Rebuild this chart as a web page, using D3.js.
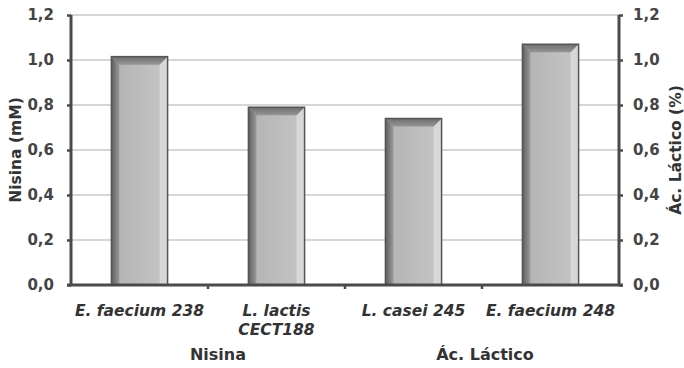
<!DOCTYPE html>
<html><head><meta charset="utf-8">
<script src="https://cdn.jsdelivr.net/npm/d3@7"></script>
<style>body{margin:0;background:#fff}svg{display:block}</style>
</head><body>
<svg id="c" width="684" height="368"></svg>
<script>
const categories = [["E. faecium 238"], ["L. lactis", "CECT188"], ["L. casei 245"], ["E. faecium 248"]];
const values = [1.015, 0.79, 0.74, 1.07];
const groups = ["Nisina", "Ác. Láctico"];
const groupSpans = [[0, 1], [2, 3]];
const yTicks = [0, 0.2, 0.4, 0.6, 0.8, 1.0, 1.2];
const leftTitle = "Nisina (mM)";
const rightTitle = "Ác. Láctico (%)";

const svg = d3.select("#c");
const L = 71, R = 619, T = 15, B = 285;
const x = d3.scaleBand().domain(d3.range(categories.length)).range([L, R]).paddingInner(0.59).paddingOuter(0.295);
const xb = d3.scaleBand().domain(d3.range(categories.length)).range([L, R]);
const y = d3.scaleLinear().domain([0, 1.2]).range([B, T]);
const fmt = d => d3.format(".1f")(d).replace(".", ",");
const font = "'DejaVu Sans', Verdana, sans-serif";

// gridlines
svg.append("g").selectAll("line").data(yTicks.filter(d => d > 0)).join("line")
  .attr("x1", L).attr("x2", R).attr("y1", d => y(d)).attr("y2", d => y(d))
  .attr("stroke", "#c8c8c8").attr("stroke-width", 1.6);

// defs
const defs = svg.append("defs");
const gFace = defs.append("linearGradient").attr("id", "face");
gFace.append("stop").attr("offset", "0%").attr("stop-color", "#b2b2b2");
gFace.append("stop").attr("offset", "100%").attr("stop-color", "#c6c6c6");
const gLeft = defs.append("linearGradient").attr("id", "lft");
gLeft.append("stop").attr("offset", "0%").attr("stop-color", "#5e5e5e");
gLeft.append("stop").attr("offset", "100%").attr("stop-color", "#9a9a9a");
const gTop = defs.append("linearGradient").attr("id", "tp").attr("x1", 0).attr("y1", 0).attr("x2", 0).attr("y2", 1);
gTop.append("stop").attr("offset", "0%").attr("stop-color", "#6e6e6e");
gTop.append("stop").attr("offset", "100%").attr("stop-color", "#959595");

// bars
const b = 8;
const bars = svg.append("g").selectAll("g").data(values).join("g");
bars.each(function(v, i) {
  const g = d3.select(this);
  const x0 = x(i), w = x.bandwidth(), y0 = y(v), h = B - y0;
  g.append("rect").attr("x", x0).attr("y", y0).attr("width", w).attr("height", h).attr("fill", "url(#face)");
  g.append("polygon").attr("points", [[x0, y0], [x0 + b, y0 + b], [x0 + b, B], [x0, B]].join(" ")).attr("fill", "url(#lft)");
  g.append("polygon").attr("points", [[x0 + w, y0], [x0 + w, B], [x0 + w - b, B], [x0 + w - b, y0 + b]].join(" ")).attr("fill", "#d8d8d8");
  g.append("polygon").attr("points", [[x0, y0], [x0 + w, y0], [x0 + w - b, y0 + b], [x0 + b, y0 + b]].join(" ")).attr("fill", "url(#tp)");
  g.append("rect").attr("x", x0).attr("y", y0).attr("width", w).attr("height", h)
    .attr("fill", "none").attr("stroke", "#555").attr("stroke-width", 1.5);
});

// axes
const axisColor = "#4a4a4a";
const leftAxis = d3.axisLeft(y).tickValues(yTicks).tickFormat(fmt).tickSize(4).tickPadding(13);
const rightAxis = d3.axisRight(y).tickValues(yTicks).tickFormat(fmt).tickSize(4).tickPadding(10);
function styleAxis(g) {
  g.select(".domain").remove();
  g.selectAll(".tick line").attr("stroke", axisColor).attr("stroke-width", 2.5);
  g.selectAll(".tick text").attr("fill", "#444").attr("font-family", font).attr("font-weight", "bold").attr("font-size", 15);
}
svg.append("g").attr("transform", `translate(${L},0)`).call(leftAxis).call(styleAxis);
svg.append("g").attr("transform", `translate(${R},0)`).call(rightAxis).call(styleAxis);
svg.append("line").attr("x1", L).attr("x2", L).attr("y1", T).attr("y2", B).attr("stroke", axisColor).attr("stroke-width", 3);
svg.append("line").attr("x1", R).attr("x2", R).attr("y1", T).attr("y2", B).attr("stroke", axisColor).attr("stroke-width", 3);

// bottom axis
svg.append("line").attr("x1", L - 4).attr("x2", R + 4).attr("y1", B).attr("y2", B).attr("stroke", axisColor).attr("stroke-width", 3);
svg.append("g").selectAll("line").data(d3.range(1, categories.length)).join("line")
  .attr("x1", d => xb(d)).attr("x2", d => xb(d)).attr("y1", B).attr("y2", B + 4)
  .attr("stroke", axisColor).attr("stroke-width", 2.5);

// category labels
const cl = svg.append("g").selectAll("text").data(categories).join("text")
  .attr("x", (d, i) => xb(i) + xb.bandwidth() / 2).attr("y", 316)
  .attr("text-anchor", "middle").attr("font-family", font).attr("font-weight", "bold")
  .attr("font-style", "italic").attr("font-size", 15.5).attr("fill", "#333");
cl.selectAll("tspan").data(d => d).join("tspan")
  .attr("x", function() { return this.parentNode.getAttribute("x"); })
  .attr("dy", (d, j) => j === 0 ? 0 : 19).text(d => d);

// group labels
svg.append("g").selectAll("text").data(groups).join("text")
  .attr("x", (d, i) => (xb(groupSpans[i][0]) + xb(groupSpans[i][1]) + xb.bandwidth()) / 2 + (i === 0 ? 10 : 3))
  .attr("y", 360).attr("text-anchor", "middle").attr("font-family", font)
  .attr("font-weight", "bold").attr("font-size", 16).attr("fill", "#333").text(d => d);

// axis titles
svg.append("text").attr("transform", `translate(21,${(T + B) / 2}) rotate(-90)`)
  .attr("text-anchor", "middle").attr("font-family", font).attr("font-weight", "bold")
  .attr("font-size", 15.5).attr("fill", "#333").text(leftTitle);
svg.append("text").attr("transform", `translate(681,${(T + B) / 2}) rotate(-90)`)
  .attr("text-anchor", "middle").attr("font-family", font).attr("font-weight", "bold")
  .attr("font-size", 15.5).attr("fill", "#333").text(rightTitle);
</script>
</body></html>
